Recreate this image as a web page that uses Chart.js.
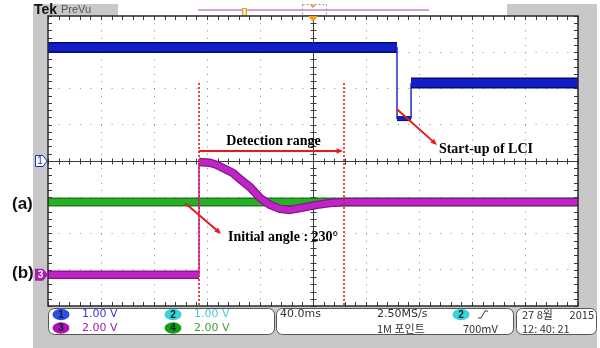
<!DOCTYPE html>
<html><head><meta charset="utf-8">
<script src="https://cdn.jsdelivr.net/npm/chart.js@4/dist/chart.umd.min.js"></script>
<style>html,body{margin:0;padding:0;background:#fff}canvas{display:block}</style>
</head><body>
<canvas id="c" width="600" height="348"></canvas>
<script>
// ---- data (time in ms, level in vertical divisions) ----
const timeRange = [0, 400];            // 10 div x 40.0 ms
const levelRange = [-4, 4];            // 8 vertical divisions
const ch1Times  = [0, 263.4, 263.4, 274, 274, 400];
const ch1Levels = [3.13, 3.13, 1.17, 1.17, 2.15, 2.15];
const ch3Times  = [0, 114, 114, 122.3, 127.5, 139.6, 144.9, 152.5, 160, 167.5, 175.1, 182.6, 190.2, 203, 212.8, 223.4, 400];
const ch3Levels = [-3.14, -3.14, -0.03, -0.05, -0.11, -0.33, -0.50, -0.72, -1.02, -1.21, -1.32, -1.35, -1.30, -1.21, -1.16, -1.13, -1.13];
const ch4Times  = [0, 400];
const ch4Levels = [-1.13, -1.13];
const rangeMarkerTimes = [114, 223.4];
const rangeMarkerLevels = [2.15, -4];
const chanScales = ['1.00 V', '1.00 V', '2.00 V', '2.00 V'];
const timebase = '40.0ms', sampleRate = '2.50MS/s', recordLen = '1M 포인트', trigLevel = '700mV';
const dateLine = ['27 8월', '2015'], timeLine = '12: 40: 21';

const pts = (ts, ls) => ts.map((t, i) => ({x: t, y: ls[i]}));
const isVert = c => !!(c && c.p0 && c.p1) && c.p0.parsed.x === c.p1.parsed.x;
const resolveW = (w, c) => typeof w === 'function' ? w(c) : w;

function band(data, outer, inner, wOuter, wInner, vertColor) {
  return [
    {data, borderColor: inner, borderWidth: 1, pointRadius: 0, tension: 0, borderJoinStyle: 'round',
     segment: {borderColor: c => isVert(c) ? 'rgba(0,0,0,0)' : inner,
               borderWidth: c => isVert(c) ? 1 : resolveW(wInner, c)}},
    {data, borderColor: outer, borderWidth: 1, pointRadius: 0, tension: 0, borderJoinStyle: 'round',
     segment: {borderColor: c => isVert(c) ? vertColor : outer,
               borderWidth: c => isVert(c) ? 1.5 : resolveW(wOuter, c)}}
  ];
}
const ch1W = c => c.p0.parsed.y < 1.5 ? 5 : 11;
const ch1Wi = c => c.p0.parsed.y < 1.5 ? 3.5 : 8;

const datasets = [
  ...rangeMarkerTimes.map(t => ({data: pts([t, t], rangeMarkerLevels), borderColor: '#e51b1b', borderWidth: 1.6,
     borderDash: [2, 2], pointRadius: 0})),
  ...band(pts(ch1Times, ch1Levels), '#08087a', '#1020c4', ch1W, ch1Wi, '#2030c0'),
  ...band(pts(ch3Times, ch3Levels), '#82168a', '#c024c4', 8.5, 6, '#c020c0'),
  ...band(pts(ch4Times, ch4Levels), '#1a801a', '#26b026', 9, 6, '#22b022'),
];

function arrow(ctx, x1, y1, x2, y2) {
  ctx.save();
  ctx.strokeStyle = '#e51b1b'; ctx.fillStyle = '#e51b1b'; ctx.lineWidth = 2;
  const a = Math.atan2(y2 - y1, x2 - x1), h = 7;
  ctx.beginPath(); ctx.moveTo(x1, y1); ctx.lineTo(x2 - Math.cos(a) * 4, y2 - Math.sin(a) * 4); ctx.stroke();
  ctx.beginPath(); ctx.moveTo(x2, y2);
  ctx.lineTo(x2 - h * Math.cos(a - 0.4), y2 - h * Math.sin(a - 0.4));
  ctx.lineTo(x2 - h * Math.cos(a + 0.4), y2 - h * Math.sin(a + 0.4));
  ctx.closePath(); ctx.fill();
  ctx.restore();
}
function rrect(ctx, x, y, w, h, r) {
  ctx.beginPath(); ctx.roundRect(x, y, w, h, r); ctx.fill(); ctx.stroke();
}
function chip(ctx, cx, cy, fill, label) {
  ctx.fillStyle = fill;
  ctx.beginPath(); ctx.ellipse(cx, cy, 8.5, 5.8, 0, 0, Math.PI * 2); ctx.fill();
  ctx.fillStyle = '#102030'; ctx.font = 'bold 10px "Liberation Sans", Arial';
  ctx.textAlign = 'center'; ctx.textBaseline = 'middle'; ctx.fillText(label, cx, cy + 0.5);
  ctx.textAlign = 'left';
}

const scope = {
  id: 'scope',
  beforeDraw(chart) {
    const ctx = chart.ctx, a = chart.chartArea;
    ctx.save();
    ctx.fillStyle = '#fff'; ctx.fillRect(0, 0, 600, 348);
    ctx.fillStyle = '#c8c8c8'; ctx.fillRect(33, 4, 564, 344);
    ctx.fillStyle = '#fff'; ctx.fillRect(118, 4, 389, 12);
    ctx.fillRect(a.left, a.top, a.right - a.left, a.bottom - a.top);
    // top record bar
    ctx.strokeStyle = '#d2a2d6'; ctx.lineWidth = 2;
    ctx.beginPath(); ctx.moveTo(198, 10); ctx.lineTo(429, 10); ctx.stroke();
    ctx.fillStyle = '#f0a020'; ctx.fillRect(242, 8, 5, 8);
    ctx.fillStyle = '#fff'; ctx.fillRect(243.5, 9, 2, 6);
    ctx.strokeStyle = '#999'; ctx.lineWidth = 1; ctx.setLineDash([2, 2]);
    ctx.strokeRect(302.5, 4.5, 24, 11); ctx.setLineDash([]);
    ctx.fillStyle = '#f0a020';
    ctx.beginPath(); ctx.moveTo(310, 5); ctx.lineTo(316, 5); ctx.lineTo(313, 8); ctx.fill();
    // Tek PreVu
    ctx.fillStyle = '#111'; ctx.font = 'bold 14px "Liberation Sans", Arial'; ctx.textBaseline = 'middle';
    ctx.fillText('Tek', 34, 10);
    ctx.fillStyle = '#555'; ctx.font = '11px "Liberation Sans Narrow", "Liberation Sans", Arial';
    ctx.fillText('PreVu', 61, 10);
    ctx.restore();
  },
  beforeDatasetsDraw(chart) {
    const ctx = chart.ctx, a = chart.chartArea, xs = chart.scales.x, ys = chart.scales.y;
    const cx = Math.round(xs.getPixelForValue(200)) + 0.5, cy = Math.round(ys.getPixelForValue(0)) + 0.5;
    ctx.save();
    ctx.strokeStyle = '#3a3a3a'; ctx.lineWidth = 1;
    ctx.beginPath();
    ctx.moveTo(a.left, cy); ctx.lineTo(a.right, cy);
    ctx.moveTo(cx, a.top); ctx.lineTo(cx, a.bottom);
    for (let t = 0; t <= 400; t += 8) {
      const x = Math.round(xs.getPixelForValue(t)) + 0.5;
      ctx.moveTo(x, cy - 3); ctx.lineTo(x, cy + 3);
      ctx.moveTo(x, a.top); ctx.lineTo(x, a.top + 4);
      ctx.moveTo(x, a.bottom); ctx.lineTo(x, a.bottom - 4);
    }
    for (let d = -4; d <= 4.001; d += 0.2) {
      const y = Math.round(ys.getPixelForValue(d)) + 0.5;
      ctx.moveTo(cx - 3, y); ctx.lineTo(cx + 3, y);
      ctx.moveTo(a.left, y); ctx.lineTo(a.left + 4, y);
      ctx.moveTo(a.right, y); ctx.lineTo(a.right - 4, y);
    }
    ctx.stroke();
    ctx.restore();
  },
  afterDatasetsDraw(chart) {
    const ctx = chart.ctx, a = chart.chartArea, xs = chart.scales.x, ys = chart.scales.y;
    const X = t => xs.getPixelForValue(t), Y = d => ys.getPixelForValue(d);
    ctx.save();
    // frame
    ctx.strokeStyle = '#2a2a2a'; ctx.lineWidth = 1.5;
    ctx.strokeRect(a.left, a.top, a.right - a.left, a.bottom - a.top);
    // trigger position marker
    ctx.fillStyle = '#f0a020';
    ctx.beginPath(); ctx.moveTo(X(200) - 5, a.top); ctx.lineTo(X(200) + 5, a.top); ctx.lineTo(X(200), a.top + 6); ctx.fill();
    // channel markers
    const y1 = Y(0);
    ctx.fillStyle = '#fff'; ctx.strokeStyle = '#2030c0'; ctx.lineWidth = 1;
    ctx.beginPath(); ctx.moveTo(35.5, y1 - 5.5); ctx.lineTo(43, y1 - 5.5); ctx.lineTo(47, y1); ctx.lineTo(43, y1 + 5.5); ctx.lineTo(35.5, y1 + 5.5); ctx.closePath(); ctx.fill(); ctx.stroke();
    ctx.fillStyle = '#2030c0'; ctx.font = '10px "Liberation Sans", Arial'; ctx.textAlign = 'center'; ctx.textBaseline = 'middle';
    ctx.fillText('1', 40, y1 + 0.5);
    const y3 = Y(ch3Levels[0]);
    ctx.fillStyle = '#b018b4';
    ctx.beginPath(); ctx.moveTo(35, y3 - 6); ctx.lineTo(43, y3 - 6); ctx.lineTo(48, y3); ctx.lineTo(43, y3 + 6); ctx.lineTo(35, y3 + 6); ctx.closePath(); ctx.fill();
    ctx.fillStyle = '#fff'; ctx.font = 'bold 10px "Liberation Sans", Arial';
    ctx.fillText('3', 40.5, y3 + 0.5);
    // annotations
    ctx.fillStyle = '#000'; ctx.font = 'bold 14px "Liberation Serif", "Times New Roman", serif';
    ctx.fillText('Detection range', X((rangeMarkerTimes[0] + rangeMarkerTimes[1]) / 2) + 2, Y(0.55));
    arrow(ctx, X(rangeMarkerTimes[0]), Y(0.276), X(rangeMarkerTimes[1]) - 1, Y(0.276));
    ctx.textAlign = 'left';
    ctx.fillStyle = '#000';
    ctx.fillText('Start-up of LCI', X(295), Y(0.33));
    arrow(ctx, X(ch1Times[1]), Y(1.43), X(293.6), Y(0.44));
    ctx.fillStyle = '#000';
    ctx.fillText('Initial angle : 230°', X(135.8), Y(-2.12));
    arrow(ctx, X(103.4), Y(-1.16), X(130.6), Y(-2.01));
    ctx.fillStyle = '#111'; ctx.font = 'bold 17px "Liberation Sans", Arial';
    ctx.fillText('(a)', 12, Y(-1.19));
    ctx.fillText('(b)', 12, Y(-3.10));
    // info boxes
    ctx.strokeStyle = '#555'; ctx.lineWidth = 1; ctx.fillStyle = '#fff';
    rrect(ctx, 48.5, 308.5, 226, 26, 6);
    rrect(ctx, 276.5, 308.5, 237, 26, 6);
    rrect(ctx, 516.5, 308.5, 80, 26, 6);
    chip(ctx, 61, 314.5, '#2a4ee6', '1');
    chip(ctx, 61, 328, '#b010b4', '3');
    chip(ctx, 173, 314.5, '#38d4dc', '2');
    chip(ctx, 173, 328, '#12a012', '4');
    chip(ctx, 461, 314.5, '#38d4dc', '2');
    ctx.font = '11px "Liberation Sans Narrow", "DejaVu Sans", Arial'; ctx.textBaseline = 'middle';
    ctx.fillStyle = '#3a3ad8'; ctx.fillText(chanScales[0], 82, 314.5);
    ctx.fillStyle = '#a020a8'; ctx.fillText(chanScales[2], 82, 328.5);
    ctx.fillStyle = '#48ccd4'; ctx.fillText(chanScales[1], 194, 314.5);
    ctx.fillStyle = '#40a040'; ctx.fillText(chanScales[3], 194, 328.5);
    ctx.fillStyle = '#333';
    ctx.fillText(timebase, 280, 314.5);
    ctx.fillText(sampleRate, 377, 314.5);
    ctx.font = '11px "Liberation Sans Narrow", "Noto Sans CJK KR", Arial';
    ctx.fillText(recordLen, 377, 328.5);
    ctx.fillText(trigLevel, 463, 328.5);
    ctx.fillText(dateLine[0], 522, 314.5);
    ctx.textAlign = 'right'; ctx.fillText(dateLine[1], 594, 314.5); ctx.textAlign = 'left';
    ctx.fillText(timeLine, 522, 328.5);
    ctx.strokeStyle = '#333'; ctx.lineWidth = 1;
    ctx.beginPath(); ctx.moveTo(478, 318); ctx.lineTo(481, 318); ctx.lineTo(485, 311); ctx.lineTo(488, 311); ctx.stroke();
    ctx.restore();
  }
};

new Chart(document.getElementById('c'), {
  type: 'line',
  data: {datasets},
  options: {
    responsive: false, animation: false, devicePixelRatio: 1,
    layout: {padding: {left: 48, right: 22, top: 16, bottom: 42}},
    plugins: {legend: {display: false}, tooltip: {enabled: false}},
    scales: {
      x: {type: 'linear', min: timeRange[0], max: timeRange[1],
          ticks: {display: false, stepSize: 40},
          grid: {color: '#8a8a8a', lineWidth: 1, drawTicks: false},
          border: {display: false, dash: [1, 6.25]}},
      y: {type: 'linear', min: levelRange[0], max: levelRange[1],
          ticks: {display: false, stepSize: 1},
          grid: {color: '#8a8a8a', lineWidth: 1, drawTicks: false},
          border: {display: false, dash: [1, 9.6]}}
    }
  },
  plugins: [scope]
});
</script>
</body></html>
